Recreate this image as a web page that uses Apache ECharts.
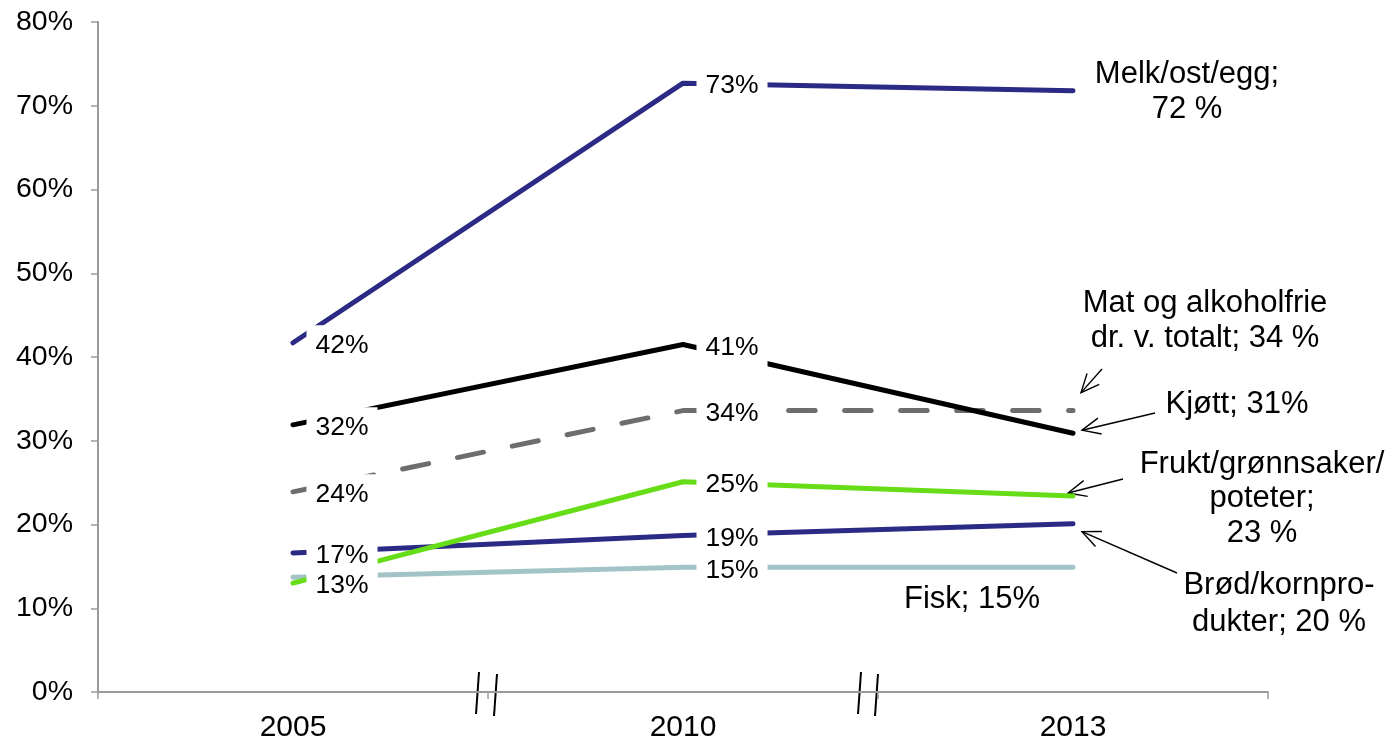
<!DOCTYPE html>
<html>
	<head>
		<meta charset="utf-8" />
		<title></title>
		<script src="https://cdn.jsdelivr.net/npm/echarts@6/dist/echarts.min.js" type="text/javascript" charset="utf-8"></script>
		<style type="text/css">
			html, body { margin: 0; padding: 0; background: #fff; }
			#chart { width: 1394px; height: 746px; }
		</style>
	</head>
	<body>
		<div id="chart"></div>
		<script type="text/javascript">
			var years = ["2005", "2010", "2013"];
			var yTicks = [0, 10, 20, 30, 40, 50, 60, 70, 80];

			var melk = [41.7, 72.7, 71.8];
			var kjott = [31.9, 41.5, 30.9];
			var total = [23.9, 33.6, 33.6];
			var frukt = [13.0, 25.1, 23.4];
			var brod = [16.6, 18.7, 20.1];
			var fisk = [13.7, 14.9, 14.9];

			var melkLabels = ["42%", "73%", ""];
			var kjottLabels = ["32%", "41%", ""];
			var totalLabels = ["24%", "34%", ""];
			var fruktLabels = ["13%", "25%", ""];
			var brodLabels = ["17%", "19%", ""];
			var fiskLabels = ["", "15%", ""];

			var font = "'Liberation Sans', Arial, sans-serif";

			function makeSeries(name, values, labels, color, dashed) {
				var data = [];
				for (var i = 0; i < values.length; i++) {
					data.push({
						value: values[i],
						label: { show: labels[i] != "", formatter: labels[i] }
					});
				}
				return {
					name: name,
					type: "line",
					data: data,
					symbol: "circle",
					symbolSize: 1,
					itemStyle: { color: color },
					lineStyle: {
						color: color,
						width: 5,
						type: dashed ? [26.5, 29.5] : "solid",
						cap: "round"
					},
					label: {
						position: "right",
						distance: 13,
						offset: [0, 3],
						color: "#000",
						fontSize: 26.5,
						fontFamily: font,
						backgroundColor: "#fff",
						padding: [8, 9, 6, 9]
					},
					emphasis: { disabled: true },
					animation: false
				};
			}

			var chart = echarts.init(document.getElementById("chart"));

			var option = {
				animation: false,
				grid: { left: 98, right: 126, top: 22, bottom: 54 },
				xAxis: {
					type: "category",
					data: years,
					boundaryGap: true,
					axisLine: { lineStyle: { color: "#9a9a9a", width: 2 } },
					axisTick: { show: true, length: 7, lineStyle: { color: "#9a9a9a", width: 1.5 } },
					axisLabel: { color: "#000", fontSize: 30, fontFamily: font, margin: 21 }
				},
				yAxis: {
					type: "value",
					min: yTicks[0],
					max: yTicks[yTicks.length - 1],
					interval: 10,
					splitLine: { show: false },
					axisLine: { show: true, lineStyle: { color: "#9a9a9a", width: 2 } },
					axisTick: { show: true, length: 7, lineStyle: { color: "#9a9a9a", width: 1.5 } },
					axisLabel: {
						color: "#000", fontSize: 28.5, fontFamily: font, margin: 25,
						formatter: function (v) { return v + "%"; }
					}
				},
				series: [
					makeSeries("Fisk", fisk, fiskLabels, "#a3c4c6", false),
					makeSeries("Brød/kornprodukter", brod, brodLabels, "#2b2a84", false),
					makeSeries("Frukt/grønnsaker/poteter", frukt, fruktLabels, "#66dd16", false),
					makeSeries("Mat og alkoholfrie dr. v. totalt", total, totalLabels, "#6d6d6d", true),
					makeSeries("Kjøtt", kjott, kjottLabels, "#000000", false),
					makeSeries("Melk/ost/egg", melk, melkLabels, "#2b2a84", false)
				]
			};
			chart.setOption(option);

			// annotations, arrows and axis break marks
			function px(i, v) { return chart.convertToPixel({ xAxisIndex: 0, yAxisIndex: 0 }, [i, v]); }

			function arrow(x1, y1, x2, y2) {
				var a = Math.atan2(y1 - y2, x1 - x2);
				var h = 20, s = 0.42;
				return [
					{ type: "line", shape: { x1: x1, y1: y1, x2: x2, y2: y2 }, style: { stroke: "#000", lineWidth: 1.4 } },
					{ type: "polyline", shape: { points: [
						[x2 + h * Math.cos(a + s), y2 + h * Math.sin(a + s)],
						[x2, y2],
						[x2 + h * Math.cos(a - s), y2 + h * Math.sin(a - s)]
					] }, style: { stroke: "#000", fill: null, lineWidth: 1.4 } }
				];
			}

			function note(text, x, y, lh) {
				return {
					type: "text", x: x, y: y,
					style: { text: text, fill: "#000", font: "31px " + font, align: "center", verticalAlign: "top", lineHeight: lh || 35 }
				};
			}

			var g = [];
			g.push(note("Melk/ost/egg;\n72 %", 1187, 57));
			g.push(note("Mat og alkoholfrie\ndr. v. totalt; 34 %", 1205, 286));
			g.push(note("Kjøtt; 31%", 1237, 387));
			g.push(note("Frukt/grønnsaker/\npoteter;\n23 %", 1262, 447, 34.5));
			g.push(note("Brød/kornpro-\ndukter; 20 %", 1279, 567, 37));
			g.push(note("Fisk; 15%", 972, 582));

			var pTotal = px(2, total[2]);
			var pKjott = px(2, kjott[2]);
			var pFrukt = px(2, frukt[2]);
			var pBrod = px(2, brod[2]);
			g = g.concat(arrow(1102, 369, pTotal[0] + 8, pTotal[1] - 18));
			g = g.concat(arrow(1155, 413, pKjott[0] + 9, pKjott[1] - 3));
			g = g.concat(arrow(1123, 479, pFrukt[0] - 5, pFrukt[1] - 3));
			g = g.concat(arrow(1177, 573, pBrod[0] + 9, pBrod[1] + 8));

			// break marks between categories
			var y0 = px(0, 0)[1];
			var breakShift = [[-12, 6], [-20, -3]];
			for (var k = 0; k < 2; k++) {
				var xm = (px(k, 0)[0] + px(k + 1, 0)[0]) / 2;
				for (var j = 0; j < 2; j++) {
					var bx = xm + breakShift[k][j];
					g.push({ type: "line", shape: { x1: bx, y1: y0 + 22 + j * 2, x2: bx + 3, y2: y0 - 20 + j * 2 }, style: { stroke: "#000", lineWidth: 2 } });
				}
			}

			chart.setOption({ graphic: g });
		</script>
	</body>
</html>
